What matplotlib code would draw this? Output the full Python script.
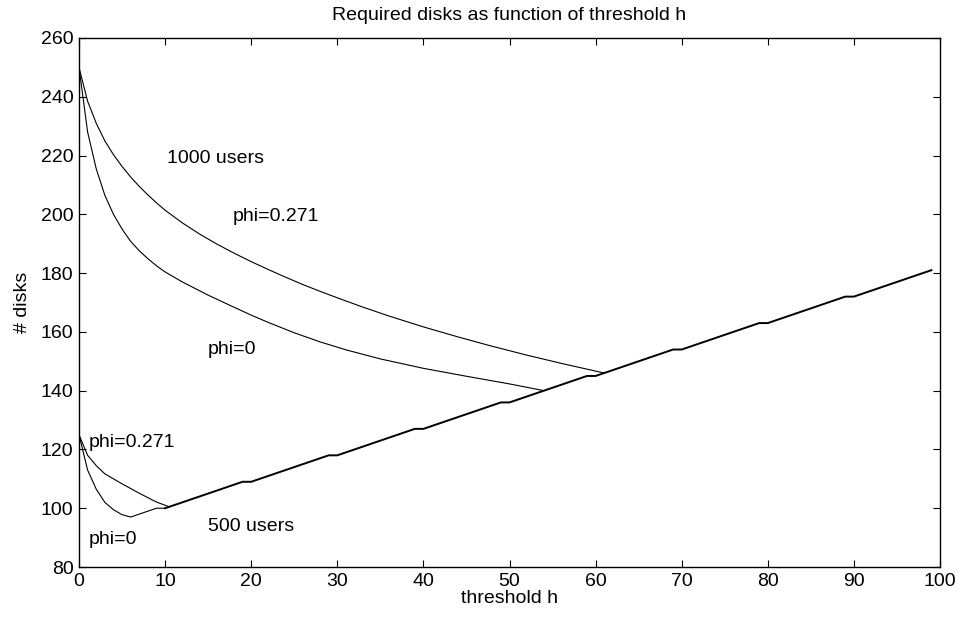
import matplotlib
matplotlib.use("Agg")
import matplotlib.pyplot as plt

plt.rcParams['font.family'] = ['Liberation Sans', 'DejaVu Sans']

# shared part: linear growth with a flat step every 10
line_h = [10, 19, 20, 29, 30, 39, 40, 49, 50, 59, 60, 69, 70, 79, 80, 89, 90, 99]
line_disks = [100, 109, 109, 118, 118, 127, 127, 136, 136, 145, 145, 154, 154, 163, 163, 172, 172, 181]

# 1000 users
h_1000_phi271 = [0, 1, 2, 3, 4, 5, 6, 7, 8, 9, 10, 12, 14, 16, 18, 20, 22, 24, 26, 28,
                 30, 33, 36, 40, 44, 48, 52, 56, 61]
d_1000_phi271 = [250, 238.5, 231, 225, 220.3, 216.3, 212.7, 209.5, 206.6, 203.9, 201.4,
                 197.1, 193.3, 189.9, 186.8, 183.9, 181.2, 178.6, 176.1, 173.8,
                 171.6, 168.4, 165.4, 161.7, 158.3, 155.1, 152.1, 149.3, 146]
h_1000_phi0 = [0, 1, 2, 3, 4, 5, 6, 7, 8, 9, 10, 12, 14, 15, 18, 20, 22, 25, 28, 31,
               35, 40, 45, 50, 54]
d_1000_phi0 = [250, 228, 215.5, 206.5, 200, 195, 190.8, 187.6, 184.9, 182.5, 180.4,
               177.0, 174.0, 172.5, 168.4, 165.7, 163.2, 159.7, 156.6, 153.9,
               150.8, 147.6, 144.9, 142.3, 140]

# 500 users
h_500_phi271 = [0, 1, 2, 3, 4, 5, 6, 7, 8, 9, 10, 10.5]
d_500_phi271 = [125, 118, 114.5, 111.7, 110, 108.3, 106.7, 105.1, 103.6, 102.1, 101, 100.5]
h_500_phi0 = [0, 1, 2, 3, 4, 5, 6, 7, 8, 9, 10]
d_500_phi0 = [125, 113, 106.5, 102, 99.5, 97.8, 97, 98, 99, 100, 100]

fig = plt.figure(figsize=(9.65, 6.17), dpi=100)
ax = fig.add_axes([79 / 965, 1 - 567 / 617, (940 - 79) / 965, (567 - 38) / 617])

ax.plot(line_h, line_disks, color='black', lw=1.4)
ax.plot(h_1000_phi271, d_1000_phi271, color='black', lw=0.8)
ax.plot(h_1000_phi0, d_1000_phi0, color='black', lw=0.8)
ax.plot(h_500_phi271, d_500_phi271, color='black', lw=0.8)
ax.plot(h_500_phi0, d_500_phi0, color='black', lw=0.8)

fs = 14
ax.text(10.2, 217.4, '1000 users', fontsize=fs)
ax.text(17.9, 197.8, 'phi=0.271', fontsize=fs)
ax.text(15, 152.5, 'phi=0', fontsize=fs)
ax.text(1.1, 121.0, 'phi=0.271', fontsize=fs)
ax.text(1.1, 87.8, 'phi=0', fontsize=fs)
ax.text(15, 92.4, '500 users', fontsize=fs)

ax.set_xlim(0, 100)
ax.set_ylim(80, 260)
ax.set_xticks(range(0, 101, 10))
ax.set_yticks(range(80, 261, 20))
ax.tick_params(direction='in', length=5, width=0.8, top=True, right=True,
               labelsize=fs, pad=4)
for s in ax.spines.values():
    s.set_linewidth(1.0)

ax.set_xlabel('threshold h', fontsize=fs, labelpad=0)
ax.set_ylabel('# disks', fontsize=fs, labelpad=7)
ax.set_title('Required disks as function of threshold h', fontsize=fs, pad=13)

fig.savefig('out.png', dpi=100)
